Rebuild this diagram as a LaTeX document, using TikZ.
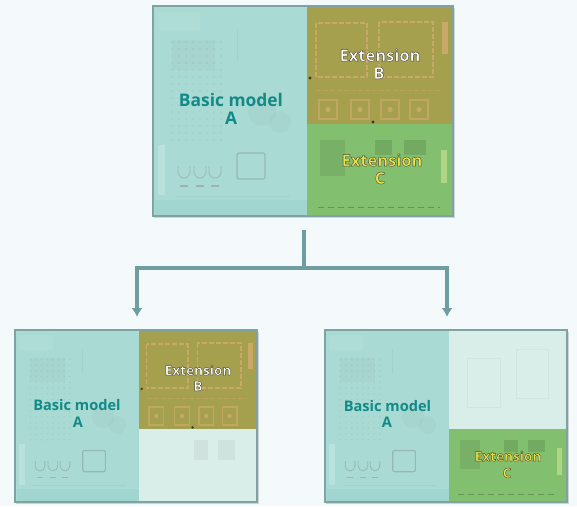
\documentclass[tikz,border=0pt]{standalone}
\usepackage{fontspec}
\setmainfont{Open Sans}
\usetikzlibrary{arrows.meta}
\definecolor{bgc}{HTML}{F4F9FB}
\definecolor{flowc}{HTML}{6F9EA1}
\definecolor{framec}{HTML}{7FA3A3}
\definecolor{regA}{HTML}{A9DBD4}
\definecolor{regB}{HTML}{A5A04E}
\definecolor{regC}{HTML}{82C06F}
\definecolor{fade}{HTML}{DAEEE9}
\definecolor{teal1}{HTML}{128A88}
\definecolor{trace}{HTML}{C9A868}
\definecolor{yel}{HTML}{F0E24A}
\definecolor{stripC}{HTML}{B0D585}
\newcommand{\edged}[1]{\special{pdf:code 2 Tr 0.4 w 0.28 0.27 0.2 RG}#1\special{pdf:code 0 Tr}}
\tikzset{
  x=1pt,y=-1pt,
  flow/.style={draw=flowc,line width=3.6pt},
  flowhead/.style={flow,-{Latex[length=9pt,width=11pt]}},
  panelbox/.style={rectangle,inner sep=0pt,draw=framec,line width=1.6pt},
  labA/.style={font=\bfseries\fontsize{17.4}{19}\selectfont,text=teal1,inner sep=0pt},
  labAs/.style={font=\bfseries\fontsize{14.6}{16}\selectfont,text=teal1,inner sep=0pt},
  labE/.style={font=\bfseries\fontsize{16.5}{18}\selectfont,inner sep=0pt},
  labEs/.style={font=\bfseries\fontsize{13.6}{15}\selectfont,inner sep=0pt},
  detail/.style={draw=#1,line width=.8pt,opacity=.4},
  tracedash/.style={draw=trace,line width=1.7pt,dash pattern=on 5pt off 2pt},
}
\newcommand{\regionA}{%
  \fill[regA] (153,6) rectangle (307,216);
  \fill[white,opacity=.06] (158,12) rectangle (200,30);
  \fill[white,opacity=.2] (158,145) rectangle (165,195);
  \fill[teal!40!regA,opacity=.12] (155,200) rectangle (307,216);
  \foreach \i in {0,...,7}{\foreach \j in {0,...,14}{
    \fill[gray,opacity=.11] (172+\i*7,42+\j*7) circle (1.2pt);}}
  \fill[gray,opacity=.07] (172,40) rectangle (215,70);
  \fill[gray,opacity=.06] (262,112) circle (14pt);
  \fill[gray,opacity=.06] (280,122) circle (11pt);
  \foreach \cx in {184,200,215}{
    \draw[detail=gray] (\cx-6,166) -- (\cx-6,172) arc[start angle=180,end angle=360,radius=6pt] -- (\cx+6,166);
    \draw[detail=gray,line width=1.3pt] (\cx-4,186) -- (\cx+4,186);}
  \draw[detail=gray,line width=1.2pt,rounded corners=2pt] (237,153) rectangle (265,179);
  \draw[gray,opacity=.1,line width=.8pt] (237,30) -- (237,60) (175,196) -- (290,196);
}
\newcommand{\regionB}{%
  \fill[regB] (307,6) rectangle (453,\sy);
  \draw[tracedash] (316,23) rectangle (367,77);
  \draw[tracedash] (379,22) rectangle (433,77);
  \fill[trace] (442,22) rectangle (448,54);
  \foreach \cx in {319,351,381,410}{
    \draw[draw=trace,line width=1.3pt,opacity=.8] (\cx,100) rectangle (\cx+18,\sy-5);
    \fill[trace] (\cx+9,{(100+\sy-5)/2}) circle (2.6pt);}
  \draw[tracedash,line width=1pt,opacity=.6] (316,90) -- (440,90);
  \fill[black!65!regB] (310,78) circle (1.6pt) (373,\sy-2) circle (1.6pt);
}
\newcommand{\regionC}{%
  \fill[regC] (307,\sy) rectangle (453,216);
  \fill[black!50!regC,opacity=.16] (320,140) rectangle (345,176);
  \fill[black!50!regC,opacity=.22] (375,140) rectangle (392,155);
  \fill[black!50!regC,opacity=.22] (404,140) rectangle (426,155);
  \fill[stripC] (441,150) rectangle (447,183);
  \draw[black!45!regC,opacity=.5,line width=1pt,dash pattern=on 6pt off 4pt] (318,207) -- (440,207);
}
\newcommand{\fadeB}{%
  \fill[fade] (307,6) rectangle (453,\sy);
  \draw[gray!60!fade,opacity=.12,line width=.7pt] (330,40) rectangle (370,100) (390,30) rectangle (430,90);
}
\newcommand{\fadeC}{%
  \fill[fade] (307,\sy) rectangle (453,216);
  \fill[gray!40!fade,opacity=.25] (375,140) rectangle (392,165);
  \fill[gray!40!fade,opacity=.25] (404,140) rectangle (426,165);
}
\newcommand{\smallview}[3]{%
  \begin{scope}[shift={(#1,330)},xscale=.807,yscale=.819,shift={(-153,-6)}]
    \def\sy{127}
    \regionA #2 #3
  \end{scope}
}
\begin{document}
\begin{tikzpicture}
\useasboundingbox (0,0) rectangle (577,506);
\fill[bgc] (0,0) rectangle (577,506);
% shadows
\fill[gray,opacity=.3] (154,8) rectangle (455,218);
\fill[gray,opacity=.3] (16,332) rectangle (259,504);
\fill[gray,opacity=.3] (326,332) rectangle (569,504);
% panels
\begin{scope}\def\sy{124}\regionA\regionB\regionC\end{scope}
\smallview{15}{\regionB}{\fadeC}
\smallview{325}{\fadeB}{\regionC}
\node[panelbox,minimum width=300pt,minimum height=210pt] (top) at (303,111) {};
\node[panelbox,minimum width=242pt,minimum height=172pt] (left) at (136,416) {};
\node[panelbox,minimum width=242pt,minimum height=172pt] (right) at (446,416) {};
% labels
\node[labA] (ta) at (231,100) {Basic model};
\node[labA] (tb) at (231,118) {A};
\node[labE,text=white] (te) at (380,55) {\edged{Extension}};
\node[labE,text=white] (tf) at (379,73) {\edged{B}};
\node[labE,text=yel] (tg) at (382,160) {\edged{Extension}};
\node[labE,text=yel] (th) at (380,178) {\edged{C}};
\node[labAs] (la) at (77,405) {Basic model};
\node[labAs] (lb) at (78,422) {A};
\node[labEs,text=white] (lc) at (198,370) {\edged{Extension}};
\node[labEs,text=white] (ld) at (198,386) {\edged{B}};
\node[labAs] (ra) at (387.5,406) {Basic model};
\node[labAs] (rb) at (387,422) {A};
\node[labEs,text=yel] (rc) at (508,456) {\edged{Extension}};
\node[labEs,text=yel] (rd) at (507,473) {\edged{C}};
% connectors
\coordinate (stem) at (304,230);
\coordinate (junction) at (304,268);
\coordinate (leftin) at (137,317);
\coordinate (rightin) at (447,317);
\draw[flow] (stem) -- (junction);
\draw[flowhead] (junction) -| (leftin);
\draw[flowhead] (junction) -| (rightin);
\end{tikzpicture}
\end{document}
